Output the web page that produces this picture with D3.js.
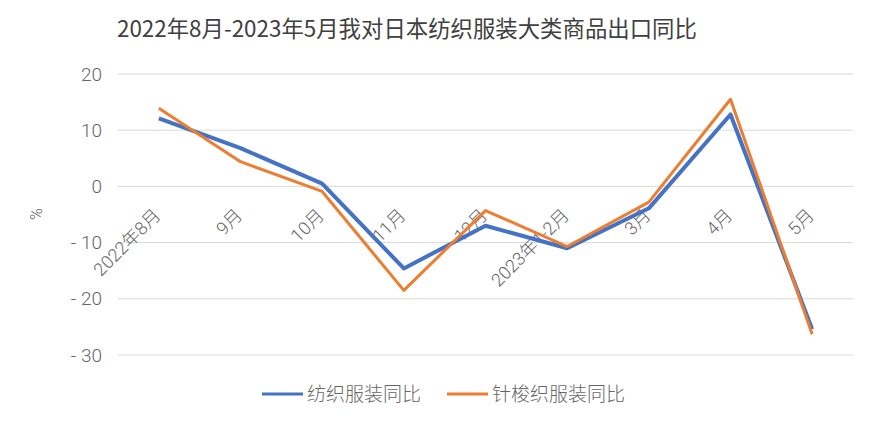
<!DOCTYPE html>
<html>
<head>
<meta charset="utf-8">
<script src="https://cdn.jsdelivr.net/npm/d3@7"></script>
<style>
  body { margin: 0; background: #fff; }
  text { font-family: Roboto, "Noto Sans CJK SC", sans-serif; font-weight: 300; }
</style>
</head>
<body>
<div id="chart"></div>
<script>
const months = ["2022年8月", "9月", "10月", "11月", "12月", "2023年1-2月", "3月", "4月", "5月"];
const textileYoY = [12.1, 6.8, 0.5, -14.6, -7.0, -11.0, -3.9, 12.8, -25.4];
const knitYoY = [13.9, 4.4, -0.9, -18.5, -4.3, -10.7, -2.8, 15.5, -26.3];
const yTicks = [20, 10, 0, -10, -20, -30];
const seriesNames = ["纺织服装同比", "针梭织服装同比"];
const colors = ["#4472c4", "#ed7d31"];

const W = 878, H = 425;
const svg = d3.select("#chart").append("svg")
  .attr("width", W)
  .attr("height", H);

svg.append("text")
  .attr("x", 117)
  .attr("y", 37)
  .attr("font-size", 22.4)
  .attr("fill", "#404040")
  .style("font-family", "\"Noto Sans CJK SC\", sans-serif")
  .style("font-weight", 400)
  .text("2022年8月-2023年5月我对日本纺织服装大类商品出口同比");

const x = d3.scaleBand()
  .domain(months)
  .range([118, 853]);

const y = d3.scaleLinear()
  .domain([-30, 20])
  .range([355, 74]);

// grid
svg.append("g")
  .selectAll("line")
  .data(yTicks)
  .enter()
  .append("line")
  .attr("x1", 118)
  .attr("x2", 853)
  .attr("y1", d => y(d))
  .attr("y2", d => y(d))
  .attr("stroke", "#d9d9d9")
  .attr("stroke-width", 1);

const yAxis = svg.append("g")
  .attr("transform", "translate(102,0)")
  .call(d3.axisLeft(y).tickValues(yTicks).tickSize(0).tickPadding(0)
    .tickFormat(d => d < 0 ? "- " + Math.abs(d) : d));
yAxis.select(".domain").remove();
yAxis.selectAll("text")
  .attr("font-size", 19)
  .attr("fill", "#666")
  .attr("font-family", null);

svg.append("text")
  .attr("transform", "translate(42,214) rotate(-90)")
  .attr("text-anchor", "middle")
  .attr("font-size", 16)
  .attr("fill", "#666")
  .text("%");

// x labels, rotated, hanging off the zero line
svg.append("g")
  .selectAll("text")
  .data(months)
  .enter()
  .append("text")
  .attr("transform", d => `translate(${x(d) + x.bandwidth() / 2 + 3},${y(0) + 30}) rotate(-45)`)
  .attr("text-anchor", "end")
  .attr("font-size", 18)
  .attr("fill", "#666")
  .text(d => d);

const line = d3.line()
  .x((d, i) => x(months[i]) + x.bandwidth() / 2)
  .y(d => y(d));

[textileYoY, knitYoY].forEach((vals, i) => {
  svg.append("path")
    .datum(vals)
    .attr("fill", "none")
    .attr("stroke", colors[i])
    .attr("stroke-width", i === 0 ? 4 : 3)
    .attr("stroke-linejoin", "round")
    .attr("d", line);
});

// legend
const legendX = [262, 447];
seriesNames.forEach((name, i) => {
  const g = svg.append("g").attr("transform", `translate(${legendX[i]},394)`);
  g.append("line")
    .attr("x1", 0).attr("x2", 41)
    .attr("stroke", colors[i])
    .attr("stroke-width", 3);
  g.append("text")
    .attr("x", 45)
    .attr("y", 7)
    .attr("font-size", 19)
    .attr("fill", "#666")
    .text(name);
});
</script>
</body>
</html>
